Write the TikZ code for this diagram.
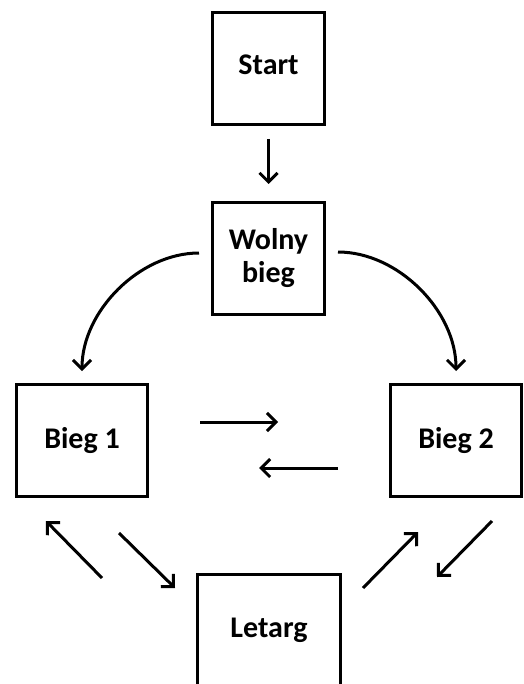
\documentclass[tikz,border=0pt]{standalone}
\usepackage{fontspec}
\setmainfont{Carlito}
\usetikzlibrary{arrows.meta}
\tikzset{
  statebox/.style={draw, line width=3pt, inner sep=0pt, minimum height=112pt, align=center,
    font=\fontsize{30}{33}\selectfont\bfseries},
  flow/.style={line width=3pt, -{Straight Barb[length=9pt,width=18pt,line width=3pt]}}
}
\begin{document}
\begin{tikzpicture}[x=1pt,y=-1pt]
\useasboundingbox (0,0) rectangle (523,684);
\clip (0,0) rectangle (523,684);
\node[statebox, minimum width=112pt, text depth=8pt] (start) at (268.5,68.5) {Start};
\node[statebox, minimum width=112pt] (wolny) at (268.5,258.5) {Wolny\\bieg};
\node[statebox, minimum width=131pt] (bieg1) at (82,440.5) {Bieg 1};
\node[statebox, minimum width=131pt] (bieg2) at (456,440.5) {Bieg 2};
\node[statebox, minimum width=143pt] (letarg) at (269,630.5) {Letarg};

\coordinate (l1a) at (102,578);
\coordinate (l1b) at (46,521);
\coordinate (b1a) at (119,533);
\coordinate (b1b) at (175,588);
\coordinate (l2a) at (363,588);
\coordinate (l2b) at (418,532);
\coordinate (b2a) at (492,521);
\coordinate (b2b) at (437,577);

\draw[flow, shorten <=13pt, shorten >=17pt] (start) -- (wolny);
\draw[flow, shorten <=12pt, shorten >=12pt] ([yshift=5.5pt]wolny.west) to[out=180, in=90] (bieg1.north);
\draw[flow, shorten <=12pt, shorten >=12pt] ([yshift=6.5pt]wolny.east) to[out=0, in=90] (bieg2.north);
\draw[flow, shorten <=51pt, shorten >=111pt] ([yshift=18.5pt]bieg1.east) -- ([yshift=18.5pt]bieg2.west);
\draw[flow, shorten <=51pt, shorten >=110pt] ([yshift=-27.5pt]bieg2.west) -- ([yshift=-27.5pt]bieg1.east);
\draw[flow] (l1a) -- (l1b);
\draw[flow] (b1a) -- (b1b);
\draw[flow] (l2a) -- (l2b);
\draw[flow] (b2a) -- (b2b);
\end{tikzpicture}
\end{document}
